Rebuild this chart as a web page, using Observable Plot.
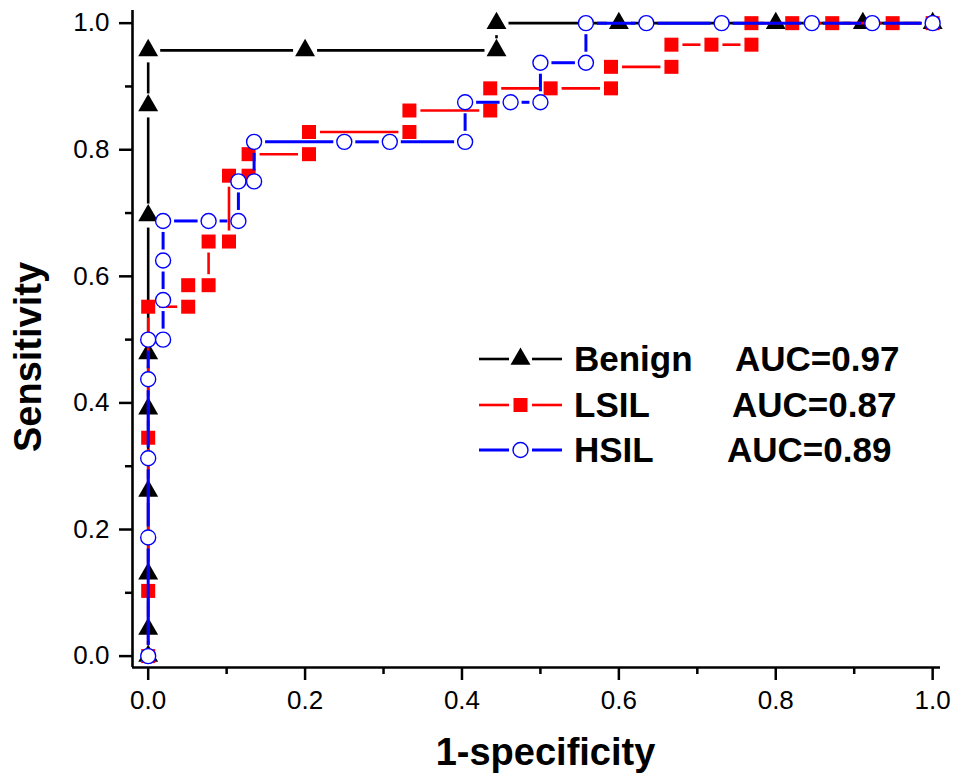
<!DOCTYPE html>
<html><head><meta charset="utf-8">
<script src="https://cdn.jsdelivr.net/npm/d3@7"></script>
<script src="https://cdn.jsdelivr.net/npm/@observablehq/plot@0.6"></script>
<style>body{margin:0;background:#fff} #chart{width:959px;height:780px}</style>
</head><body><div id="chart"></div>
<script>
// ---- data ----
const seriesNames = ["Benign", "LSIL", "HSIL"];
const aucLabels = ["AUC=0.97", "AUC=0.87", "AUC=0.89"];

const benignFpr = [0,0,0,0,0,0,0,0,0,0.2,0.444,0.444,0.6,0.8,0.911,1];
const benignTpr = [0,0.043,0.130,0.261,0.391,0.478,0.696,0.870,0.957,0.957,0.957,1,1,1,1,1];

const lsilFpr = [0,0,0,0,0.051,0.051,0.077,0.077,0.103,0.103,0.128,0.128,0.205,0.205,0.333,0.333,0.436,0.436,0.513,0.590,0.590,0.667,0.667,0.718,0.769,0.769,0.821,0.872,0.949,1];
const lsilTpr = [0,0.103,0.345,0.552,0.552,0.586,0.586,0.655,0.655,0.759,0.759,0.793,0.793,0.828,0.828,0.862,0.862,0.897,0.897,0.897,0.931,0.931,0.966,0.966,0.966,1,1,1,1,1];

const hsilFpr = [0,0,0,0,0,0.019,0.019,0.019,0.019,0.077,0.115,0.115,0.135,0.135,0.25,0.308,0.404,0.404,0.462,0.5,0.5,0.558,0.558,0.635,0.731,0.846,0.923,1];
const hsilTpr = [0,0.1875,0.3125,0.4375,0.5,0.5,0.5625,0.625,0.6875,0.6875,0.6875,0.75,0.75,0.8125,0.8125,0.8125,0.8125,0.875,0.875,0.875,0.9375,0.9375,1,1,1,1,1,1];

const xTicks = [0, 0.2, 0.4, 0.6, 0.8, 1.0];
const xMinorTicks = [0.1, 0.3, 0.5, 0.7, 0.9];
const yTicks = [0, 0.2, 0.4, 0.6, 0.8, 1.0];
const yMinorTicks = [0.1, 0.3, 0.5, 0.7, 0.9];
const xTitle = "1-specificity";
const yTitle = "Sensitivity";

// ---- layout ----
const W = 959, H = 780;
const M = {top: 10, right: 19, bottom: 113, left: 132};
const xDomain = [-0.02, 1.01], yDomain = [-0.018, 1.02];
const FONT = "'Liberation Sans', Arial, Helvetica, sans-serif";

function lin(d, r) {
  const k = (r[1] - r[0]) / (d[1] - d[0]);
  return {apply: v => r[0] + (v - d[0]) * k, invert: p => d[0] + (p - r[0]) / k};
}
let sx, sy;
try {
  const a = Plot.scale({x: {domain: xDomain, range: [M.left, W - M.right]}});
  const b = Plot.scale({y: {domain: yDomain, range: [H - M.bottom, M.top]}});
  sx = (a && a.apply && a.invert) ? a : lin(xDomain, [M.left, W - M.right]);
  sy = (b && b.apply && b.invert) ? b : lin(yDomain, [H - M.bottom, M.top]);
} catch (e) {
  sx = lin(xDomain, [M.left, W - M.right]);
  sy = lin(yDomain, [H - M.bottom, M.top]);
}

// line segments that stop short of the symbols (gap to symbol)
function segments(fpr, tpr, gap) {
  const out = [];
  for (let i = 0; i < fpr.length - 1; i++) {
    const ax = sx.apply(fpr[i]), ay = sy.apply(tpr[i]);
    const bx = sx.apply(fpr[i + 1]), by = sy.apply(tpr[i + 1]);
    const L = Math.hypot(bx - ax, by - ay);
    if (L <= 2 * gap + 1) continue;
    const ux = (bx - ax) / L, uy = (by - ay) / L;
    out.push({
      x1: sx.invert(ax + ux * gap), y1: sy.invert(ay + uy * gap),
      x2: sx.invert(bx - ux * gap), y2: sy.invert(by - uy * gap)
    });
  }
  return out;
}
const pts = (f, t) => f.map((x, i) => ({x, y: t[i]}));

const series = [
  {fpr: benignFpr, tpr: benignTpr, color: "#000000", symbol: "triangle", r: 7.4, fill: "#000000", stroke: "none", sw: 0, lw: 2.6, gap: 12},
  {fpr: lsilFpr, tpr: lsilTpr, color: "#ff0000", symbol: "square", r: 7.9, fill: "#ff0000", stroke: "none", sw: 0, lw: 2.6, gap: 11},
  {fpr: hsilFpr, tpr: hsilTpr, color: "#0000ff", symbol: "circle", r: 7.5, fill: "#ffffff", stroke: "#0000ff", sw: 1.4, lw: 3, gap: 11}
];

const marks = [];
for (const s of series) {
  marks.push(Plot.link(segments(s.fpr, s.tpr, s.gap), {x1: "x1", y1: "y1", x2: "x2", y2: "y2", stroke: s.color, strokeWidth: s.lw}));
  marks.push(Plot.dot(pts(s.fpr, s.tpr), {x: "x", y: "y", symbol: s.symbol, r: s.r, fill: s.fill, stroke: s.stroke, strokeWidth: s.sw}));
}

const chart = Plot.plot({
  width: W, height: H,
  marginTop: M.top, marginRight: M.right, marginBottom: M.bottom, marginLeft: M.left,
  style: {fontFamily: FONT, fontSize: "26px", color: "#000", background: "#fff", overflow: "visible"},
  x: {domain: xDomain, range: [M.left, W - M.right]},
  y: {domain: yDomain, range: [H - M.bottom, M.top]},
  marks: [
    Plot.axisX({ticks: xTicks, tickSize: 13, tickPadding: 10, strokeWidth: 2.5, tickFormat: d3.format(".1f"), fontSize: 26, label: null}),
    Plot.axisX({ticks: xMinorTicks, tickSize: 7, strokeWidth: 2.5, tickFormat: () => "", label: null}),
    Plot.axisY({ticks: yTicks, tickSize: 13, tickPadding: 10, strokeWidth: 2.5, tickFormat: d3.format(".1f"), fontSize: 26, label: null}),
    Plot.axisY({ticks: yMinorTicks, tickSize: 7, strokeWidth: 2.5, tickFormat: () => "", label: null}),
    Plot.ruleX([xDomain[0]], {stroke: "#000", strokeWidth: 2.6}),
    Plot.ruleY([yDomain[0]], {stroke: "#000", strokeWidth: 2.6}),
    ...marks,
    Plot.text([xTitle], {frameAnchor: "bottom", dx: 9, dy: 85, fontSize: 38, fontWeight: "bold", fill: "#000", textAnchor: "middle", lineAnchor: "middle"}),
    Plot.text([yTitle], {frameAnchor: "left", dx: -104, dy: 18, rotate: -90, fontSize: 38, fontWeight: "bold", fill: "#000", textAnchor: "middle", lineAnchor: "middle"})
  ]
});
document.getElementById("chart").appendChild(chart);

// ---- legend (inside the plot area) ----
const svg = d3.select(chart.tagName.toLowerCase() === "svg" ? chart : chart.querySelector("svg"));
const lg = svg.append("g").attr("font-family", FONT).attr("text-anchor", "start");
const rowY = [359, 405, 450];
const aucX = [735, 732, 727];
const symSize = {triangle: 173, square: 196};
series.forEach((s, i) => {
  const y = rowY[i];
  lg.append("line").attr("x1", 479).attr("x2", 509).attr("y1", y).attr("y2", y).attr("stroke", s.color).attr("stroke-width", s.lw);
  lg.append("line").attr("x1", 532).attr("x2", 562).attr("y1", y).attr("y2", y).attr("stroke", s.color).attr("stroke-width", s.lw);
  if (s.symbol === "circle") {
    lg.append("circle").attr("cx", 520.5).attr("cy", y).attr("r", 7.5).attr("fill", "#fff").attr("stroke", s.color).attr("stroke-width", 1.4);
  } else {
    const sym = s.symbol === "triangle" ? d3.symbolTriangle : d3.symbolSquare;
    lg.append("path").attr("d", d3.symbol(sym, symSize[s.symbol])()).attr("transform", `translate(520.5,${y})`).attr("fill", s.fill);
  }
  lg.append("text").attr("x", 574).attr("y", y + 12).attr("text-anchor", "start").attr("font-size", 35).attr("font-weight", "bold").attr("fill", "#000").text(seriesNames[i]);
  lg.append("text").attr("x", aucX[i]).attr("y", y + 12).attr("text-anchor", "start").attr("font-size", 35).attr("font-weight", "bold").attr("fill", "#000").text(aucLabels[i]);
});
</script></body></html>
